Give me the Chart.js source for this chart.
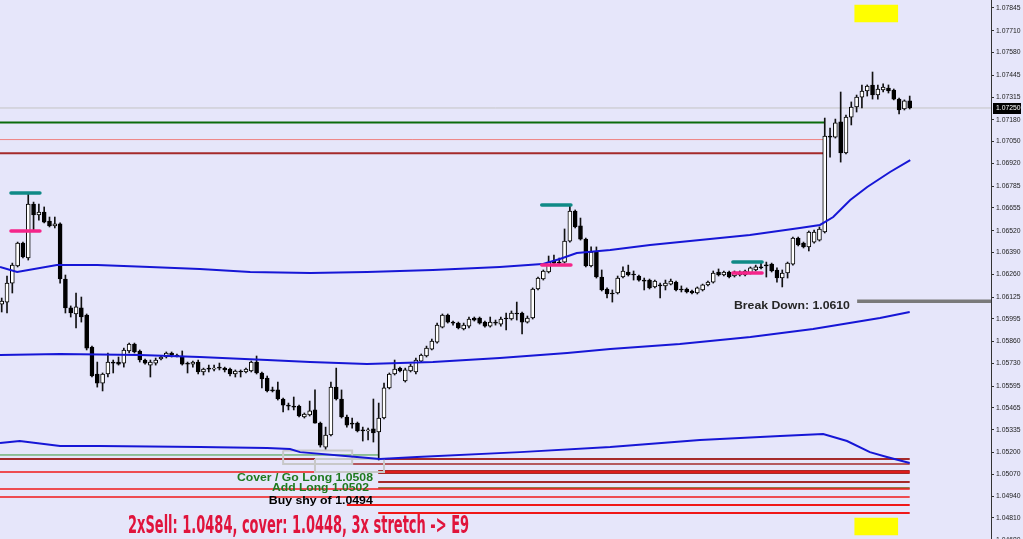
<!DOCTYPE html>
<html><head><meta charset="utf-8">
<script src="https://cdn.jsdelivr.net/npm/chart.js@4.4.1/dist/chart.umd.min.js"></script>
<style>html,body{margin:0;padding:0;background:#E6E6FA;overflow:hidden}#wrap{width:1023px;height:539px;position:relative}</style>
</head><body><div id="wrap"><canvas id="c" width="1023" height="539"></canvas></div>
<script>
// ---------- candle data (EURUSD) ----------
const opens = [
1.06083,1.06095,1.06208,1.06310,1.06446,1.06357,1.06678,1.06613,1.06631,1.06577,
1.06548,1.06560,1.06232,1.06060,1.06024,1.06060,1.06018,1.05827,1.05667,1.05613,
1.05667,1.05738,1.05738,1.05732,1.05804,1.05845,1.05804,1.05750,1.05720,1.05732,
1.05756,1.05768,1.05792,1.05780,1.05774,1.05732,1.05726,1.05738,1.05679,1.05702,
1.05696,1.05708,1.05702,1.05696,1.05667,1.05685,1.05679,1.05685,1.05738,1.05673,
1.05643,1.05572,1.05572,1.05518,1.05482,1.05476,1.05476,1.05411,1.05423,1.05453,
1.05375,1.05232,1.05304,1.05589,1.05518,1.05411,1.05375,1.05375,1.05334,1.05328,
1.05340,1.05322,1.05405,1.05584,1.05667,1.05702,1.05625,1.05685,1.05679,1.05744,
1.05774,1.05815,1.05857,1.05946,1.06018,1.05976,1.05970,1.05935,1.05952,1.06000,
1.06000,1.05976,1.05952,1.05976,1.05964,1.06000,1.05994,1.06030,1.06030,1.05976,
1.06000,1.06173,1.06232,1.06274,1.06339,1.06333,1.06333,1.06458,1.06637,1.06548,
1.06470,1.06310,1.06393,1.06244,1.06173,1.06149,1.06149,1.06244,1.06274,1.06262,
1.06250,1.06226,1.06226,1.06185,1.06197,1.06191,1.06202,1.06214,1.06173,1.06173,
1.06161,1.06149,1.06167,1.06197,1.06214,1.06274,1.06256,1.06274,1.06250,1.06256,
1.06256,1.06268,1.06286,1.06304,1.06315,1.06321,1.06286,1.06238,1.06268,1.06321,
1.06476,1.06446,1.06423,1.06452,1.06464,1.06512,1.07083,1.07077,1.07167,1.06982,
1.07196,1.07256,1.07315,1.07351,1.07387,1.07327,1.07357,1.07369,1.07357,1.07303,
1.07244,1.07292];
const highs = [
1.06119,1.06250,1.06327,1.06452,1.06452,1.06744,1.06690,1.06678,1.06661,1.06601,
1.06601,1.06566,1.06256,1.06072,1.06149,1.06125,1.06024,1.05833,1.05738,1.05673,
1.05792,1.05750,1.05768,1.05821,1.05851,1.05851,1.05810,1.05756,1.05750,1.05762,
1.05774,1.05798,1.05798,1.05786,1.05804,1.05738,1.05744,1.05750,1.05702,1.05720,
1.05720,1.05732,1.05708,1.05702,1.05691,1.05691,1.05702,1.05744,1.05774,1.05679,
1.05655,1.05589,1.05619,1.05524,1.05494,1.05530,1.05482,1.05435,1.05506,1.05572,
1.05381,1.05351,1.05619,1.05702,1.05572,1.05423,1.05405,1.05381,1.05351,1.05345,
1.05518,1.05494,1.05613,1.05673,1.05750,1.05708,1.05702,1.05726,1.05762,1.05786,
1.05833,1.05875,1.05970,1.06024,1.06024,1.05982,1.05976,1.05970,1.06006,1.06006,
1.06006,1.05982,1.06006,1.05988,1.06006,1.06030,1.06042,1.06095,1.06036,1.06012,
1.06179,1.06244,1.06286,1.06369,1.06375,1.06357,1.06530,1.06672,1.06643,1.06595,
1.06476,1.06423,1.06423,1.06286,1.06179,1.06167,1.06250,1.06304,1.06315,1.06280,
1.06256,1.06238,1.06232,1.06226,1.06208,1.06226,1.06232,1.06220,1.06191,1.06179,
1.06167,1.06185,1.06202,1.06220,1.06280,1.06292,1.06280,1.06280,1.06280,1.06280,
1.06286,1.06304,1.06315,1.06333,1.06333,1.06327,1.06298,1.06286,1.06333,1.06482,
1.06482,1.06452,1.06518,1.06524,1.06542,1.07190,1.07131,1.07184,1.07345,1.07208,
1.07286,1.07327,1.07387,1.07387,1.07464,1.07387,1.07393,1.07387,1.07363,1.07309,
1.07298,1.07321];
const lows = [
1.06036,1.06030,1.06149,1.06304,1.06357,1.06345,1.06518,1.06583,1.06566,1.06542,
1.06536,1.06208,1.06030,1.06006,1.05941,1.05976,1.05810,1.05649,1.05589,1.05566,
1.05649,1.05673,1.05720,1.05708,1.05792,1.05792,1.05738,1.05726,1.05649,1.05720,
1.05750,1.05762,1.05768,1.05768,1.05720,1.05673,1.05708,1.05667,1.05661,1.05679,
1.05685,1.05691,1.05679,1.05655,1.05649,1.05649,1.05673,1.05679,1.05667,1.05584,
1.05560,1.05560,1.05512,1.05441,1.05453,1.05453,1.05411,1.05405,1.05417,1.05375,
1.05232,1.05220,1.05298,1.05512,1.05405,1.05351,1.05345,1.05322,1.05268,1.05274,
1.05262,1.05155,1.05399,1.05578,1.05661,1.05679,1.05619,1.05679,1.05667,1.05738,
1.05768,1.05810,1.05851,1.05941,1.05970,1.05958,1.05935,1.05929,1.05941,1.05982,
1.05964,1.05946,1.05946,1.05958,1.05952,1.05929,1.05988,1.05988,1.05905,1.05970,
1.05994,1.06167,1.06226,1.06268,1.06321,1.06315,1.06327,1.06452,1.06536,1.06464,
1.06304,1.06304,1.06238,1.06161,1.06119,1.06095,1.06143,1.06238,1.06250,1.06226,
1.06220,1.06167,1.06173,1.06179,1.06119,1.06167,1.06197,1.06161,1.06155,1.06149,
1.06143,1.06143,1.06161,1.06191,1.06208,1.06250,1.06250,1.06238,1.06244,1.06250,
1.06250,1.06262,1.06280,1.06292,1.06244,1.06274,1.06214,1.06185,1.06238,1.06315,
1.06429,1.06417,1.06399,1.06446,1.06458,1.06506,1.06958,1.07071,1.06928,1.06976,
1.07149,1.07226,1.07250,1.07321,1.07303,1.07303,1.07345,1.07339,1.07298,1.07214,
1.07238,1.07244];
const closes = [
1.06101,1.06208,1.06315,1.06446,1.06363,1.06678,1.06613,1.06631,1.06571,1.06548,
1.06560,1.06232,1.06060,1.06030,1.06066,1.06006,1.05821,1.05655,1.05613,1.05667,
1.05738,1.05732,1.05726,1.05810,1.05845,1.05798,1.05750,1.05732,1.05738,1.05750,
1.05768,1.05792,1.05780,1.05774,1.05726,1.05726,1.05738,1.05679,1.05696,1.05696,
1.05702,1.05702,1.05691,1.05667,1.05685,1.05679,1.05696,1.05738,1.05673,1.05637,
1.05566,1.05566,1.05518,1.05482,1.05476,1.05470,1.05417,1.05429,1.05447,1.05375,
1.05244,1.05304,1.05589,1.05518,1.05411,1.05363,1.05369,1.05328,1.05328,1.05334,
1.05316,1.05405,1.05584,1.05667,1.05696,1.05685,1.05691,1.05714,1.05750,1.05780,
1.05821,1.05863,1.05958,1.06018,1.05976,1.05970,1.05941,1.05958,1.05994,1.05988,
1.05970,1.05952,1.05976,1.05970,1.05994,1.05994,1.06030,1.06024,1.05976,1.06000,
1.06173,1.06238,1.06280,1.06333,1.06327,1.06327,1.06458,1.06637,1.06542,1.06470,
1.06310,1.06393,1.06244,1.06167,1.06143,1.06143,1.06238,1.06280,1.06256,1.06256,
1.06226,1.06220,1.06179,1.06220,1.06191,1.06208,1.06220,1.06167,1.06167,1.06155,
1.06149,1.06179,1.06197,1.06214,1.06268,1.06256,1.06274,1.06244,1.06274,1.06274,
1.06280,1.06298,1.06304,1.06298,1.06310,1.06280,1.06238,1.06268,1.06327,1.06476,
1.06435,1.06423,1.06512,1.06512,1.06530,1.07083,1.07077,1.07161,1.06982,1.07196,
1.07256,1.07315,1.07351,1.07381,1.07327,1.07363,1.07375,1.07351,1.07303,1.07238,
1.07292,1.07250];

// ---------- moving averages (bar index, price) ----------
const maUpperIdx = [-0.32,2.9,10.4,18.0,27.9,37.3,46.8,58.1,68.8,81.2,93.8,101.8,105.1,108.3,114.6,122.1,131.5,140.9,150.3,154.1,156.6,159.8,163.0,167.3,171.1];
const maUpperVal = [1.06304,1.06274,1.06315,1.06315,1.06304,1.06292,1.06274,1.06268,1.06274,1.06286,1.06304,1.06321,1.06351,1.06387,1.06405,1.06435,1.06464,1.06494,1.06536,1.06554,1.06601,1.06702,1.06780,1.06869,1.06940];
const maMidIdx = [-0.32,11.0,26.0,37.3,50.0,58.1,68.8,81.2,93.8,106.5,114.6,127.7,141.0,152.8,165.4,171.0];
const maMidVal = [1.05780,1.05786,1.05780,1.05768,1.05750,1.05738,1.05726,1.05738,1.05762,1.05792,1.05815,1.05845,1.05887,1.05935,1.06000,1.06036];
const maLowIdx = [-0.32,3.4,11.0,18.5,37.3,50.0,54.3,56.2,66.9,71.2,78.2,97.6,114.6,131.5,146.6,154.7,159.2,163.5,166.7,171.0];
const maLowVal = [1.05256,1.05268,1.05238,1.05238,1.05232,1.05226,1.05220,1.05202,1.05173,1.05161,1.05173,1.05202,1.05232,1.05274,1.05298,1.05310,1.05268,1.05202,1.05173,1.05137];

// ---------- drawn price levels ----------
const levelPrice = [1.07164,1.07062,1.06980,1.05185,1.05161,1.05131,1.05084,1.05084,1.05024,1.04983,1.04989,1.04935,1.04888,1.04840];
const levelFrom  = [-0.32,-0.32,-0.32,-0.32,-0.32,65.0,-0.32,70.9,70.9,-0.32,70.9,-0.32,65.0,70.9];
const levelTo    = [154.9,154.9,154.9,70.9,171.0,171.0,171.0,171.0,171.0,171.0,171.0,171.0,171.0,171.0];
const currentPrice = 1.07250;
const breakDownPrice = 1.0610;
const markerTeal = [1.06744,1.06673,1.06334];
const markerPink = [1.06518,1.06315,1.06268];
const markerFrom = [1.75,101.7,137.7];
const markerTo   = [7.2,107.2,143.2];
const boxIdx = [[53.0,66.0],[59.0,72.0]];
const boxPrice = [[1.05212,1.05131],[1.05161,1.05084]];
const yellowIdx = 164.7;
const yellowRanges = [[1.07762,1.07863],[1.04709,1.04810]];
const yTicks = [1.07845,1.07710,1.07580,1.07445,1.07315,1.07180,1.07050,1.06920,1.06785,1.06655,1.06520,1.06390,1.06260,1.06125,1.05995,1.05860,1.05730,1.05595,1.05465,1.05335,1.05200,1.05070,1.04940,1.04810,1.04680];

// ---------- styles ----------
const levelStyle = [
 {c:'#0b6b0b',w:2},{c:'#ee8080',w:1},{c:'#a52a2a',w:2},
 {c:'#3a9a3a',w:1},{c:'#a52a2a',w:2},{c:'#a52a2a',w:1.5},{c:'#f01818',w:1.5},{c:'#a52a2a',w:4},
 {c:'#a52a2a',w:2},{c:'#f01818',w:1.5},{c:'#6b5a10',w:1.5},{c:'#f01818',w:1.5},{c:'#f01818',w:2},{c:'#f01818',w:2}];
const X_MIN=-0.32, X_MAX=186.31, Y_MIN=1.04685, Y_MAX=1.078926;

const texts = [
 {t:'Break Down: 1.0610', x:137.9, y:1.06072, color:'#262626', font:'bold 11px "Liberation Sans", Arial, sans-serif', w:116},
 {t:'Cover / Go Long 1.0508', x:44.3, y:1.05051, color:'#1f7a1f', font:'bold 11px "Liberation Sans", Arial, sans-serif', w:136},
 {t:'Add Long 1.0502', x:50.9, y:1.04989, color:'#1f7a1f', font:'bold 11px "Liberation Sans", Arial, sans-serif', w:97},
 {t:'Buy shy of 1.0494', x:50.3, y:1.04910, color:'#000000', font:'bold 11px "Liberation Sans", Arial, sans-serif', w:104},
 {t:'2xSell: 1.0484, cover: 1.0448, 3x stretch -> E9', x:23.8, y:1.04759, color:'#e0143c', font:'bold 25px "Liberation Sans Narrow", "DejaVu Sans Condensed", sans-serif', w:341}
];

const idx = opens.map((_,i)=>i);
const ds = [];
levelPrice.forEach((p,k)=>ds.push({type:'line',data:[{x:levelFrom[k],y:p},{x:levelTo[k],y:p}],borderColor:levelStyle[k].c,borderWidth:levelStyle[k].w,pointRadius:0,order:20}));
ds.push({type:'line',data:[{x:X_MIN,y:currentPrice},{x:X_MAX,y:currentPrice}],borderColor:'#c4c4c4',borderWidth:1,pointRadius:0,order:21});
ds.push({type:'line',data:[{x:161.1,y:breakDownPrice},{x:X_MAX,y:breakDownPrice}],borderColor:'#7a7a7a',borderWidth:3.5,pointRadius:0,order:19});
boxIdx.forEach((b,k)=>{const [a,c]=b,[p1,p2]=boxPrice[k];
 ds.push({type:'line',data:[{x:a,y:p1},{x:c,y:p1},{x:c,y:p2},{x:a,y:p2},{x:a,y:p1}],borderColor:'#c8c8c8',borderWidth:2,pointRadius:0,order:18});});
ds.push({type:'bar',data:yellowRanges.map(r=>({x:yellowIdx,y:r})),backgroundColor:'#ffff00',barThickness:43,grouped:false,order:17});
ds.push({type:'bar',data:idx.map(i=>({x:i,y:[lows[i],highs[i]]})),backgroundColor:'#111',barThickness:1,grouped:false,order:10});
ds.push({type:'bar',data:idx.map(i=>({x:i,y:[opens[i],closes[i]]})),backgroundColor:idx.map(i=>closes[i]>=opens[i]?'#ffffff':'#000000'),
 borderColor:'#000',borderWidth:1,borderSkipped:false,barThickness:4,minBarLength:1,grouped:false,order:9});
[[maUpperIdx,maUpperVal],[maMidIdx,maMidVal],[maLowIdx,maLowVal]].forEach(([xs,ys])=>
 ds.push({type:'line',data:xs.map((x,i)=>({x,y:ys[i]})),borderColor:'#1616d6',borderWidth:2,pointRadius:0,tension:0,order:5}));
markerTeal.forEach((p,k)=>ds.push({type:'line',data:[{x:markerFrom[k],y:p},{x:markerTo[k],y:p}],borderColor:'#0f8a86',borderWidth:3.5,borderCapStyle:'round',pointRadius:0,order:2}));
markerPink.forEach((p,k)=>ds.push({type:'line',data:[{x:markerFrom[k],y:p},{x:markerTo[k],y:p}],borderColor:'#f5258a',borderWidth:3.5,borderCapStyle:'round',pointRadius:0,order:2}));

const deco = {
 id:'deco',
 beforeDraw(ch){const c=ch.ctx;c.save();c.fillStyle='#E6E6FA';c.fillRect(0,0,ch.width,ch.height);c.restore();},
 afterDatasetsDraw(ch){
  const c=ch.ctx,xs=ch.scales.x,ys=ch.scales.y;c.save();c.textBaseline='middle';c.textAlign='left';
  texts.forEach(o=>{c.font=o.font;c.fillStyle=o.color;const px=xs.getPixelForValue(o.x),py=ys.getPixelForValue(o.y);
   const m=c.measureText(o.t).width; if(m>o.w) c.fillText(o.t,px,py,o.w); else {c.save();c.translate(px,py);c.scale(o.w/m,1);c.fillText(o.t,0,0);c.restore();}});
  c.restore();
 },
 afterDraw(ch){
  const c=ch.ctx,ys=ch.scales.y;const py=Math.round(ys.getPixelForValue(currentPrice));
  c.save();c.fillStyle='#000';c.fillRect(ch.chartArea.right+2,py-5,28,11);
  c.fillStyle='#fff';c.font='6.8px "Liberation Sans", Arial, sans-serif';c.textBaseline='middle';c.textAlign='left';
  c.fillText(currentPrice.toFixed(5),ch.chartArea.right+5,py+0.5);c.restore();
 }
};

new Chart(document.getElementById('c'),{
 type:'bar',
 data:{datasets:ds},
 options:{
  responsive:false,animation:false,devicePixelRatio:1,events:[],
  layout:{padding:0,autoPadding:false},
  plugins:{legend:{display:false},tooltip:{enabled:false}},
  scales:{
   x:{type:'linear',min:X_MIN,max:X_MAX,offset:false,display:false},
   y:{type:'linear',position:'right',min:Y_MIN,max:Y_MAX,
      grid:{display:true,drawOnChartArea:false,drawTicks:true,tickLength:3,tickColor:'#333'},
      border:{display:true,color:'#333',width:1},
      ticks:{autoSkip:false,color:'#222',padding:2,font:{family:'"Liberation Sans", Arial, sans-serif',size:6.8},callback:v=>Number(v).toFixed(5)},
      afterBuildTicks:s=>{s.ticks=yTicks.map(v=>({value:v}));},
      afterFit:s=>{s.width=32;s.paddingTop=0;s.paddingBottom=0;}
   }
  }
 },
 plugins:[deco]
});
</script></body></html>
